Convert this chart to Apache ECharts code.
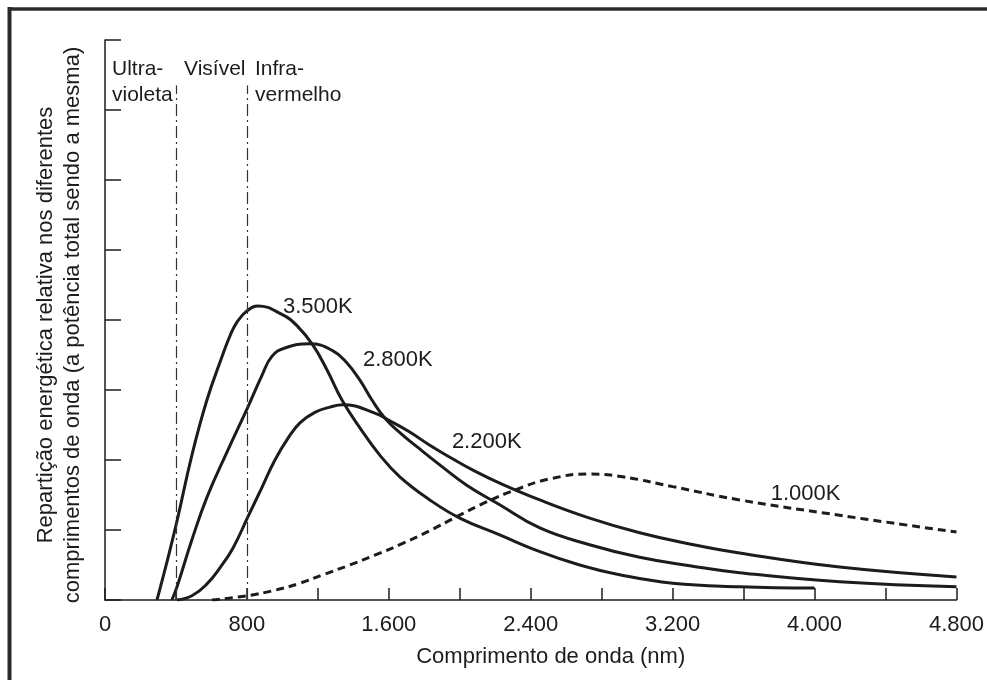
<!DOCTYPE html>
<html>
<head>
<meta charset="utf-8">
<script src="https://cdn.jsdelivr.net/npm/echarts@6/dist/echarts.min.js"></script>
<style>html,body{margin:0;padding:0;background:#fff;}#chart{width:987px;height:680px;}</style>
</head>
<body>
<div id="chart"></div>
<script>
// ---- data (wavelength in nm, relative energy in axis-tick units) ----
const xTicks = [0, 800, 1600, 2400, 3200, 4000, 4800];

const wl3500 = [293, 349, 406, 490, 575, 659, 704, 744, 800, 862, 997, 1082, 1172, 1251, 1335, 1437, 1549, 1662, 1831, 2000, 2225, 2451, 2676, 2901, 3200, 3577, 4000];
const val3500 = [0, 0.54, 1.13, 2.07, 2.86, 3.47, 3.77, 3.97, 4.13, 4.20, 4.08, 3.92, 3.64, 3.29, 2.86, 2.46, 2.07, 1.76, 1.43, 1.17, 0.93, 0.69, 0.50, 0.36, 0.24, 0.19, 0.17];

const wl2800 = [377, 406, 490, 575, 687, 806, 885, 941, 1014, 1155, 1285, 1363, 1437, 1504, 1577, 1662, 1758, 1887, 2039, 2225, 2451, 2732, 3014, 3296, 3577, 4141, 4800];
const val2800 = [0, 0.19, 0.86, 1.47, 2.11, 2.76, 3.21, 3.48, 3.60, 3.66, 3.56, 3.39, 3.14, 2.86, 2.60, 2.39, 2.19, 1.93, 1.64, 1.36, 1.03, 0.79, 0.61, 0.49, 0.39, 0.26, 0.19];

const wl2200 = [406, 490, 575, 648, 721, 806, 885, 958, 1031, 1099, 1183, 1268, 1340, 1521, 1606, 1718, 1831, 1944, 2085, 2225, 2451, 2732, 3014, 3296, 3577, 4141, 4800];
const val2200 = [0, 0.06, 0.23, 0.46, 0.74, 1.19, 1.61, 2.00, 2.31, 2.53, 2.68, 2.755, 2.79, 2.67, 2.56, 2.40, 2.21, 2.04, 1.84, 1.67, 1.43, 1.17, 0.96, 0.80, 0.67, 0.47, 0.33];

const wl1000 = [603, 800, 958, 1099, 1239, 1380, 1521, 1662, 1831, 1983, 2141, 2310, 2507, 2732, 2918, 3200, 3577, 4141, 4800];
const val1000 = [0, 0.06, 0.14, 0.24, 0.37, 0.50, 0.64, 0.79, 0.99, 1.19, 1.39, 1.57, 1.73, 1.80, 1.76, 1.62, 1.43, 1.21, 0.97];

const curveNames = ['3.500K', '2.800K', '2.200K', '1.000K'];
const curveLabelPos = [[1200, 4.19], [1651, 3.43], [2152, 2.26], [3949, 1.52]];

const bandEdges = [400, 800];
const bandEdgeTop = 7.35;
const bandNames = ['Ultra-\nvioleta', 'Visível', 'Infra-\nvermelho'];

const xTitle = 'Comprimento de onda (nm)';
const yTitle = 'Repartição energética relativa nos diferentes\ncomprimentos de onda (a potência total sendo a mesma)';

// ---- chart ----
const FONT = '"Liberation Sans", Arial, sans-serif';
const INK = '#1c1c1c';
const zip = (xs, ys) => xs.map((x, i) => [x, ys[i]]);
const fmt = v => String(v).replace(/\B(?=(\d{3})+(?!\d))/g, '.');

function curve(name, xs, ys, dashed, labelPos) {
  return {
    name: name, type: 'line', data: zip(xs, ys),
    smooth: 0.45, showSymbol: false, symbol: 'none',
    lineStyle: { color: INK, width: 3, type: dashed ? [8, 5] : 'solid', cap: 'butt' },
    markPoint: {
      symbol: 'circle', symbolSize: 0, silent: true,
      label: { show: true, position: 'inside', formatter: name, color: INK, fontFamily: FONT, fontSize: 22 },
      data: [{ coord: labelPos }]
    },
    z: 3
  };
}

const chart = echarts.init(document.getElementById('chart'), null, { renderer: 'canvas' });
const option = {
  animation: false,
  backgroundColor: '#ffffff',
  grid: { left: 105, right: 30, top: 40, bottom: 80 },
  xAxis: {
    type: 'value', min: 0, max: 4800, interval: 400,
    axisLine: { show: true, lineStyle: { color: INK, width: 1.5 } },
    axisTick: { show: true, inside: true, length: 12, lineStyle: { color: INK, width: 1.5 } },
    axisLabel: {
      color: INK, fontFamily: FONT, fontSize: 22, margin: 14,
      formatter: v => (xTicks.indexOf(v) >= 0 ? fmt(v) : '')
    },
    splitLine: { show: false },
    name: xTitle, nameLocation: 'middle', nameGap: 46,
    nameTextStyle: { color: INK, fontFamily: FONT, fontSize: 22, padding: [0, 0, 0, 40] }
  },
  yAxis: {
    type: 'value', min: 0, max: 8, interval: 1,
    axisLine: { show: true, lineStyle: { color: INK, width: 1.5 } },
    axisTick: { show: true, inside: true, length: 16, lineStyle: { color: INK, width: 1.5 } },
    axisLabel: { show: false },
    splitLine: { show: false }
  },
  series: [
    curve(curveNames[0], wl3500, val3500, false, curveLabelPos[0]),
    curve(curveNames[1], wl2800, val2800, false, curveLabelPos[1]),
    curve(curveNames[2], wl2200, val2200, false, curveLabelPos[2]),
    curve(curveNames[3], wl1000, val1000, true, curveLabelPos[3]),
    {
      type: 'line', data: [], silent: true,
      markLine: {
        silent: true, symbol: ['none', 'none'], label: { show: false },
        lineStyle: { color: '#333', width: 1.2, type: [12, 4, 2, 4] },
        data: bandEdges.map(e => [{ coord: [e, 0] }, { coord: [e, bandEdgeTop] }])
      }
    }
  ],
  graphic: [
    { type: 'line', shape: { x1: 9.5, y1: 7, x2: 9.5, y2: 680 }, style: { stroke: '#2a2a2a', lineWidth: 4 }, silent: true },
    { type: 'line', shape: { x1: 8, y1: 9, x2: 987, y2: 9 }, style: { stroke: '#2a2a2a', lineWidth: 3.5 }, silent: true },
    {
      type: 'text', x: 59, y: 325, rotation: Math.PI / 2, silent: true,
      style: { text: yTitle, fill: INK, font: '22px ' + FONT, textAlign: 'center', textVerticalAlign: 'middle', lineHeight: 27 }
    },
    { type: 'text', x: 112, y: 56, silent: true, style: { text: bandNames[0], fill: INK, font: '21px ' + FONT, textAlign: 'left', textVerticalAlign: 'top', lineHeight: 26 } },
    { type: 'text', x: 184, y: 56, silent: true, style: { text: bandNames[1], fill: INK, font: '21px ' + FONT, textAlign: 'left', textVerticalAlign: 'top', lineHeight: 26 } },
    { type: 'text', x: 255, y: 56, silent: true, style: { text: bandNames[2], fill: INK, font: '21px ' + FONT, textAlign: 'left', textVerticalAlign: 'top', lineHeight: 26 } }
  ]
};
chart.setOption(option);
</script>
</body>
</html>
